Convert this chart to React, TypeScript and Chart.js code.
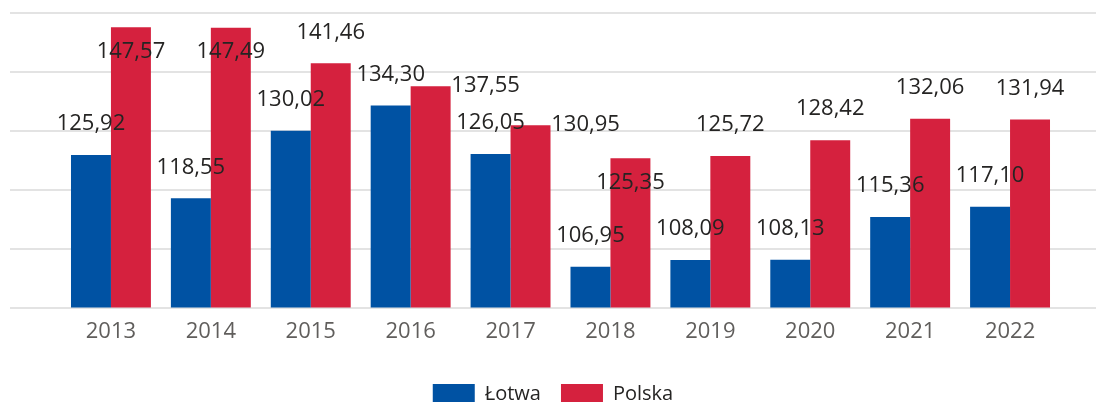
import React, { useEffect, useRef } from 'react';
import { Chart, registerables } from 'chart.js';

Chart.register(...registerables);

const years = ['2013', '2014', '2015', '2016', '2017', '2018', '2019', '2020', '2021', '2022'];
const lotwa = [125.92, 118.55, 130.02, 134.3, 126.05, 106.95, 108.09, 108.13, 115.36, 117.1];
const polska = [147.57, 147.49, 141.46, 137.55, 130.95, 125.35, 125.72, 128.42, 132.06, 131.94];
const seriesNames = ['Łotwa', 'Polska'];
const lotwaLabelPlacement = ['above', 'above', 'above', 'above', 'above', 'above', 'above', 'above', 'above', 'above'];
const polskaLabelPlacement = ['inside', 'inside', 'above', 'right', 'right', 'inside', 'above', 'above', 'above', 'above'];
const yMin = 100;
const yMax = 150;
const yStep = 10;

const BLUE = '#0052A3';
const RED = '#D5213E';
const GRID = '#e3e3e3';
const FONT = "'Open Sans', 'Noto Sans', sans-serif";

const fmt = (v: number) => v.toFixed(2).replace('.', ',');

const placements = [lotwaLabelPlacement, polskaLabelPlacement];

const labelPlugin = {
  id: 'barValueLabels',
  afterDatasetsDraw(chart: any) {
    const ctx = chart.ctx;
    ctx.save();
    ctx.font = `22px ${FONT}`;
    ctx.fillStyle = '#252423';
    ctx.textAlign = 'center';
    ctx.textBaseline = 'middle';
    chart.data.datasets.forEach((ds: any, di: number) => {
      const meta = chart.getDatasetMeta(di);
      meta.data.forEach((bar: any, i: number) => {
        const p = placements[di][i];
        let x = bar.x;
        let y = bar.y;
        if (p === 'above') {
          y -= 31;
        } else if (p === 'inside') {
          y += 24;
        } else if (p === 'right') {
          x += 55;
          y -= 1;
        }
        ctx.fillText(fmt(ds.data[i]), x, y);
      });
    });
    ctx.restore();
  },
};

export default function App() {
  const ref = useRef<HTMLCanvasElement>(null);

  useEffect(() => {
    document.body.style.margin = '0';
    document.body.style.overflow = 'hidden';
    Chart.defaults.font.family = FONT;
    const chart = new Chart(ref.current!, {
      type: 'bar',
      data: {
        labels: years,
        datasets: [
          { label: seriesNames[0], data: lotwa, backgroundColor: BLUE, borderWidth: 0 },
          { label: seriesNames[1], data: polska, backgroundColor: RED, borderWidth: 0 },
        ],
      },
      options: {
        responsive: false,
        animation: false,
        layout: { padding: { left: 10, top: 13, right: 0, bottom: 0 } },
        datasets: { bar: { categoryPercentage: 0.8, barPercentage: 1.0 } },
        plugins: {
          legend: {
            position: 'bottom',
            labels: {
              boxWidth: 42,
              boxHeight: 20,
              padding: 20,
              color: '#252423',
              font: { size: 20, family: FONT },
            },
          },
          tooltip: { enabled: false },
        },
        scales: {
          x: {
            grid: { display: false, drawTicks: false },
            border: { display: false },
            ticks: { color: '#605E5C', font: { size: 22, family: FONT }, padding: 11 },
            afterFit: (scale: any) => {
              scale.height += 8;
            },
          },
          y: {
            position: 'left',
            min: yMin,
            max: yMax,
            ticks: { display: false, stepSize: yStep },
            grid: { color: GRID, lineWidth: 2, tickLength: 51, drawTicks: true },
            border: { display: false },
          },
          y2: {
            position: 'right',
            min: yMin,
            max: yMax,
            ticks: { display: false, stepSize: yStep },
            grid: { color: GRID, lineWidth: 2, tickLength: 36, drawTicks: true, drawOnChartArea: false },
            border: { display: false },
          },
        },
      },
      plugins: [labelPlugin],
    });
    return () => chart.destroy();
  }, []);

  return (
    <div style={{ width: 1096, height: 414 }}>
      <canvas ref={ref} width={1096} height={414} style={{ display: 'block' }} />
    </div>
  );
}
